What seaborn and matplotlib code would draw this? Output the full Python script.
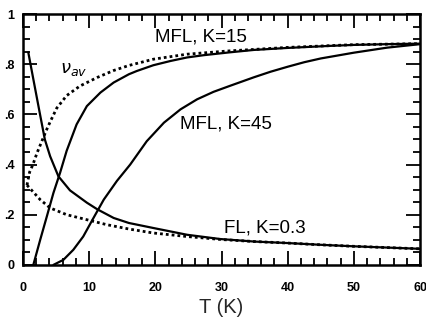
import numpy as np
import pandas as pd
import matplotlib
matplotlib.use("Agg")
import matplotlib.pyplot as plt
from matplotlib.ticker import MultipleLocator, FixedFormatter, FixedLocator
import seaborn as sns

# curves
T_FL = [0.8, 1.6, 2.5, 3.3, 4.1, 5.35, 7.1, 9.65, 11.2, 13.7, 16, 19.7, 24.8, 29.8, 34.9, 40, 45, 50, 55, 60]
FL = [0.847, 0.735, 0.61, 0.50, 0.433, 0.353, 0.297, 0.248, 0.222, 0.187, 0.167, 0.147, 0.12, 0.103,
      0.093, 0.087, 0.08, 0.074, 0.069, 0.064]

T_FLd = [0.6, 2.6, 4.1, 6.6, 9.65, 12.7, 16, 19.7, 24.8, 30, 35, 40, 45, 50, 55, 60]
FLd = [0.318, 0.26, 0.227, 0.2, 0.18, 0.16, 0.143, 0.127, 0.113, 0.101, 0.093, 0.087, 0.08, 0.074, 0.069, 0.064]

T_NU = [0.6, 1.0, 1.5, 2.1, 2.8, 3.5, 4.1, 5.1, 6.6, 8.6, 11.2, 13.7, 16, 19.7, 24.8, 31.1, 40, 50, 60]
NU = [0.318, 0.37, 0.40, 0.445, 0.49, 0.535, 0.57, 0.625, 0.675, 0.713, 0.747, 0.775, 0.795, 0.82,
      0.84, 0.853, 0.867, 0.878, 0.882]

T_K15 = [1.56, 2.6, 3.6, 4.6, 5.6, 6.6, 8.1, 9.65, 11.7, 13.7, 16, 17.2, 19.7, 22.3, 24.8, 27.3, 31.1,
         34.9, 40, 46.3, 50, 55, 60]
K15 = [0, 0.1, 0.193, 0.287, 0.367, 0.455, 0.56, 0.633, 0.687, 0.727, 0.76, 0.773, 0.796, 0.813, 0.827,
       0.836, 0.847, 0.857, 0.865, 0.873, 0.877, 0.88, 0.882]

T_K45 = [4.6, 6.1, 7.6, 9.1, 10.65, 12.2, 14.2, 16.2, 18.7, 21.3, 23.8, 26.3, 28.8, 31.4, 34.9, 37.4,
         40, 42.5, 45, 50, 55, 60]
K45 = [0, 0.02, 0.06, 0.113, 0.187, 0.26, 0.335, 0.40, 0.493, 0.567, 0.62, 0.66, 0.69, 0.715, 0.748,
       0.77, 0.79, 0.808, 0.823, 0.846, 0.866, 0.88]

XTICKS = [0, 10, 20, 30, 40, 50, 60]
YTICKS = [0, 0.2, 0.4, 0.6, 0.8, 1.0]
YLABELS = ["0", ".2", ".4", ".6", ".8", "1"]

sns.set_style("ticks")
plt.rcParams["font.family"] = ["Liberation Sans", "DejaVu Sans"]
plt.rcParams["text.color"] = "black"
plt.rcParams["xtick.color"] = "black"
plt.rcParams["ytick.color"] = "black"

fig = plt.figure(figsize=(4.26, 3.27), dpi=100)
ax = fig.add_axes([0.054, 0.19, 0.932, 0.767])

dots = (0, (1, 1.1))
sns.lineplot(x=T_FL, y=FL, ax=ax, color="black", lw=1.6)
sns.lineplot(x=T_FLd, y=FLd, ax=ax, color="black", lw=2, linestyle=dots)
sns.lineplot(x=T_NU, y=NU, ax=ax, color="black", lw=2, linestyle=dots)
sns.lineplot(x=T_K15, y=K15, ax=ax, color="black", lw=1.6)
sns.lineplot(x=T_K45, y=K45, ax=ax, color="black", lw=1.6)

ax.set_xlim(0, 60)
ax.set_ylim(0, 1)
ax.xaxis.set_major_locator(FixedLocator(XTICKS))
ax.xaxis.set_minor_locator(MultipleLocator(2))
ax.yaxis.set_major_locator(FixedLocator(YTICKS))
ax.yaxis.set_major_formatter(FixedFormatter(YLABELS))
ax.yaxis.set_minor_locator(MultipleLocator(0.05))
ax.tick_params(which="both", direction="in", top=True, right=True, width=1.3, color="black")
ax.tick_params(which="major", length=10, labelsize=9)
ax.tick_params(axis="x", which="major", pad=12)
ax.tick_params(axis="y", which="major", pad=6)
ax.tick_params(which="minor", length=5)
for lab in ax.get_xticklabels() + ax.get_yticklabels():
    lab.set_fontweight("bold")
for sp in ax.spines.values():
    sp.set_linewidth(1.8)
    sp.set_color("black")
    sp.set_visible(True)

ax.text(20, 0.91, "MFL, K=15", fontsize=13.5, va="center", ha="left")
ax.text(23.8, 0.56, "MFL, K=45", fontsize=13.5, va="center", ha="left")
ax.text(30.3, 0.148, "FL, K=0.3", fontsize=13.5, va="center", ha="left")
ax.text(7.6, 0.78, r"$\nu_{av}$", fontsize=13, va="center", ha="center")

ax.set_xlabel("T (K)", fontsize=14.5, labelpad=3)
ax.set_ylabel("")

fig.savefig("out.png", dpi=100)
